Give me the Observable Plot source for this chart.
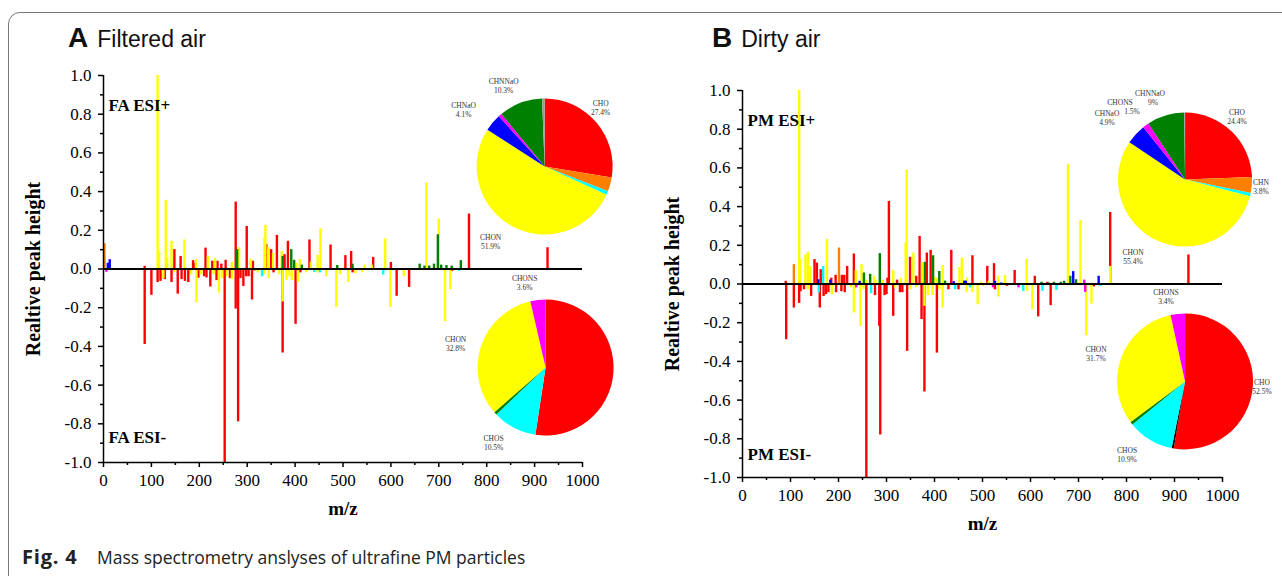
<!DOCTYPE html>
<html>
<head>
<meta charset="utf-8">
<script src="https://cdn.jsdelivr.net/npm/d3@7"></script>
<script src="https://cdn.jsdelivr.net/npm/@observablehq/plot@0.6"></script>
<style>
  html, body { margin: 0; padding: 0; background: #fff; }
  #page { position: relative; width: 1282px; height: 576px; overflow: hidden; background: #fff; }
  .panel { position: absolute; top: 0; }
  .panel svg { display: block; background: transparent; max-width: none; overflow: visible; }
  .panel svg text { font-family: 'Liberation Serif', 'Times New Roman', serif !important; font-variant: normal !important; }
  .title { position: absolute; top: 24px; font-family: "Liberation Sans", Arial, sans-serif; color: #111; white-space: nowrap; line-height: 28px; }
  .title b { font-size: 28px; font-weight: bold; }
  .title span { font-size: 23px; margin-left: 9px; }
  .cap { position: absolute; top: 545px; font-family: "Open Sans", sans-serif; color: #222; white-space: nowrap; line-height: 24px; }
  #frame { position: absolute; left: 8px; top: 12px; width: 1330px; height: 640px; border: 1px solid #777; border-radius: 12px; pointer-events: none; }
</style>
</head>
<body>
<div id="page">
  <div id="panelA" class="panel" style="left:0px;width:640px;"></div>
  <div id="panelB" class="panel" style="left:640px;width:642px;"></div>
  <div class="title" style="left:68px;"><b>A</b><span>Filtered air</span></div>
  <div class="title" style="left:712px;"><b>B</b><span>Dirty air</span></div>
  <div class="cap" style="left:22px;font-size:20px;font-weight:bold;letter-spacing:0.8px;">Fig. 4</div>
  <div class="cap" style="left:97px;font-size:17.5px;">Mass spectrometry anslyses of ultrafine PM particles</div>
  <div id="frame"></div>
</div>
<script>
// ---------- categories / colours ----------
const classes = ["CHO", "CHN", "CHOS", "CHON", "CHNaO", "CHONS", "CHNNaO", "Other", "Unassigned"];
const classColors = ["#ff0000", "#ff8000", "#00ffff", "#ffff00", "#0000ff", "#ff00ff", "#008000", "#9a9a9a", "#000000"];
const classCode = { R: "CHO", O: "CHN", C: "CHOS", Y: "CHON", B: "CHNaO", M: "CHONS", G: "CHNNaO" };
const drawOrder = ["CHO", "CHON", "CHN", "CHOS", "CHNaO", "CHONS", "CHNNaO"];

// ---------- axis ticks ----------
const xTicks = [0, 100, 200, 300, 400, 500, 600, 700, 800, 900, 1000];
const xMinor = [50, 150, 250, 350, 450, 550, 650, 750, 850, 950];
const yTicks = [-1, -0.8, -0.6, -0.4, -0.2, 0, 0.2, 0.4, 0.6, 0.8, 1];
const yMinor = [-0.9, -0.7, -0.5, -0.3, -0.1, 0.1, 0.3, 0.5, 0.7, 0.9];

// ---------- A: filtered air, ESI+  [m/z, relative height, class] ----------
const faPos = [
  [2,0.13,"O"],[9,0.03,"B"],[13,0.048,"B"],[86,0.014,"R"],[113,1.0,"Y"],[116,0.09,"Y"],[130,0.355,"Y"],
  [133,0.06,"Y"],[142,0.143,"Y"],[148,0.10,"R"],[161,0.065,"R"],[169,0.15,"Y"],[187,0.043,"R"],[190,0.03,"R"],
  [193,0.048,"Y"],[213,0.108,"R"],[218,0.065,"Y"],[227,0.04,"R"],[233,0.055,"Y"],[238,0.04,"R"],[246,0.025,"R"],
  [255,0.045,"R"],[268,0.035,"Y"],[276,0.346,"R"],[279,0.10,"G"],[283,0.11,"Y"],[299,0.22,"R"],[307,0.05,"Y"],
  [312,0.04,"R"],[336,0.16,"Y"],[338,0.226,"Y"],[340,0.126,"R"],[344,0.11,"Y"],[350,0.10,"R"],[354,0.08,"Y"],
  [362,0.174,"R"],[372,0.09,"Y"],[374,0.065,"G"],[378,0.074,"R"],[385,0.143,"R"],[392,0.10,"G"],[398,0.045,"G"],
  [402,0.03,"Y"],[410,0.05,"Y"],[414,0.02,"G"],[430,0.15,"R"],[433,0.035,"Y"],[447,0.07,"Y"],[453,0.207,"Y"],
  [474,0.124,"R"],[488,0.018,"G"],[505,0.069,"R"],[517,0.091,"R"],[520,0.025,"G"],[545,0.02,"Y"],[560,0.02,"Y"],
  [563,0.06,"R"],[588,0.155,"Y"],[600,0.034,"R"],[660,0.025,"G"],[670,0.015,"G"],[674,0.444,"Y"],[680,0.015,"G"],
  [690,0.025,"G"],[698,0.177,"G"],[700,0.258,"Y"],[705,0.02,"G"],[716,0.018,"G"],[727,0.015,"G"],[746,0.043,"G"],
  [763,0.284,"R"],[927,0.11,"R"]
];
// ---------- A: filtered air, ESI- ----------
const faNeg = [
  [6,-0.017,"M"],[86,-0.39,"R"],[100,-0.136,"R"],[113,-0.07,"R"],[119,-0.064,"R"],[125,-0.05,"Y"],[128,-0.055,"R"],
  [142,-0.07,"R"],[148,-0.02,"Y"],[155,-0.13,"R"],[163,-0.055,"R"],[170,-0.064,"R"],[177,-0.07,"R"],[183,-0.03,"Y"],
  [194,-0.176,"Y"],[198,-0.048,"R"],[204,-0.03,"Y"],[210,-0.04,"R"],[215,-0.046,"R"],[223,-0.093,"R"],[230,-0.03,"Y"],
  [236,-0.06,"R"],[241,-0.124,"Y"],[247,-0.05,"Y"],[253,-1.0,"R"],[258,-0.04,"Y"],[264,-0.05,"R"],[268,-0.055,"Y"],
  [276,-0.207,"R"],[281,-0.79,"R"],[286,-0.05,"R"],[292,-0.09,"R"],[298,-0.04,"R"],[303,-0.04,"R"],[310,-0.16,"R"],
  [315,-0.01,"R"],[322,-0.02,"Y"],[331,-0.04,"C"],[335,-0.03,"Y"],[345,-0.05,"Y"],[355,-0.02,"R"],[367,-0.03,"Y"],
  [374,-0.434,"R"],[374,-0.17,"Y"],[382,-0.06,"Y"],[388,-0.04,"Y"],[393,-0.06,"Y"],[401,-0.286,"R"],[406,-0.07,"Y"],
  [411,-0.02,"R"],[423,-0.02,"Y"],[440,-0.018,"C"],[447,-0.02,"Y"],[452,-0.02,"C"],[465,-0.04,"Y"],[486,-0.198,"Y"],
  [494,-0.03,"Y"],[511,-0.07,"Y"],[520,-0.02,"R"],[526,-0.025,"Y"],[540,-0.02,"Y"],[584,-0.031,"C"],[599,-0.198,"Y"],
  [612,-0.141,"R"],[627,-0.04,"Y"],[638,-0.095,"R"],[713,-0.272,"Y"],[724,-0.107,"Y"],[728,-0.012,"R"],[742,-0.012,"C"]
];
// ---------- B: dirty air, ESI+ ----------
const pmPos = [
  [90,0.014,"R"],[107,0.10,"O"],[118,1.0,"Y"],[120,0.126,"Y"],[131,0.15,"Y"],[136,0.164,"Y"],[141,0.09,"Y"],
  [150,0.126,"R"],[155,0.108,"R"],[158,0.022,"B"],[163,0.074,"R"],[168,0.09,"C"],[176,0.229,"Y"],[183,0.02,"B"],
  [185,0.03,"R"],[194,0.045,"R"],[201,0.186,"O"],[207,0.045,"R"],[212,0.045,"R"],[218,0.091,"R"],[232,0.155,"R"],
  [236,0.07,"Y"],[244,0.014,"B"],[248,0.10,"Y"],[253,0.057,"G"],[258,0.02,"Y"],[266,0.05,"G"],[274,0.04,"Y"],
  [277,0.02,"Y"],[286,0.157,"G"],[292,0.02,"Y"],[302,0.03,"R"],[305,0.427,"R"],[314,0.07,"Y"],[322,0.02,"R"],
  [330,0.03,"Y"],[340,0.21,"Y"],[342,0.59,"Y"],[349,0.138,"R"],[356,0.16,"Y"],[362,0.04,"R"],[369,0.246,"R"],
  [374,0.11,"Y"],[380,0.112,"G"],[384,0.16,"R"],[392,0.174,"R"],[397,0.146,"G"],[400,0.035,"Y"],[405,0.03,"Y"],
  [410,0.065,"G"],[417,0.095,"Y"],[422,0.015,"G"],[435,0.174,"R"],[440,0.012,"B"],[452,0.085,"Y"],[457,0.134,"Y"],
  [462,0.015,"B"],[465,0.015,"B"],[468,0.03,"Y"],[479,0.146,"R"],[497,0.01,"Y"],[510,0.091,"R"],[513,0.014,"Y"],
  [524,0.105,"R"],[526,0.014,"B"],[533,0.04,"Y"],[539,0.005,"B"],[547,0.043,"Y"],[567,0.07,"R"],[592,0.129,"Y"],
  [609,0.04,"R"],[623,0.009,"G"],[635,0.009,"R"],[638,0.005,"G"],[649,0.009,"G"],[663,0.009,"G"],[670,0.014,"G"],
  [678,0.617,"Y"],[683,0.04,"G"],[689,0.064,"B"],[695,0.022,"G"],[704,0.327,"Y"],[712,0.02,"M"],[742,0.04,"B"],
  [766,0.37,"R"],[766,0.091,"Y"],[929,0.15,"R"]
];
// ---------- B: dirty air, ESI- ----------
const pmNeg = [
  [91,-0.288,"R"],[107,-0.124,"R"],[118,-0.1,"R"],[121,-0.04,"R"],[128,-0.03,"R"],[136,-0.03,"Y"],[143,-0.064,"R"],
  [159,-0.046,"C"],[161,-0.124,"R"],[169,-0.065,"R"],[174,-0.055,"R"],[179,-0.045,"R"],[186,-0.055,"Y"],[195,-0.045,"R"],
  [206,-0.04,"R"],[213,-0.045,"R"],[226,-0.02,"Y"],[232,-0.15,"Y"],[237,-0.02,"M"],[246,-0.219,"Y"],[252,-0.03,"Y"],
  [258,-1.0,"R"],[268,-0.05,"C"],[276,-0.06,"R"],[285,-0.219,"R"],[287,-0.78,"R"],[296,-0.06,"R"],[300,-0.055,"R"],
  [314,-0.167,"R"],[318,-0.02,"Y"],[328,-0.045,"R"],[333,-0.045,"R"],[343,-0.348,"R"],[350,-0.03,"Y"],[362,-0.02,"Y"],
  [373,-0.184,"R"],[379,-0.558,"R"],[379,-0.115,"Y"],[386,-0.06,"Y"],[396,-0.06,"Y"],[405,-0.357,"R"],[410,-0.03,"Y"],
  [417,-0.124,"Y"],[429,-0.03,"R"],[443,-0.03,"C"],[450,-0.03,"R"],[467,-0.045,"Y"],[474,-0.02,"C"],[479,-0.045,"Y"],
  [490,-0.107,"Y"],[501,-0.012,"Y"],[522,-0.02,"M"],[526,-0.03,"R"],[533,-0.067,"Y"],[551,-0.012,"R"],[575,-0.02,"M"],
  [585,-0.038,"C"],[593,-0.038,"Y"],[604,-0.133,"Y"],[616,-0.17,"R"],[625,-0.038,"C"],[642,-0.112,"R"],[654,-0.033,"C"],
  [714,-0.043,"M"],[716,-0.267,"Y"],[727,-0.103,"Y"],[732,-0.015,"R"],[746,-0.012,"C"]
];

// ---------- pie compositions (% of formulas) ----------
const faPosPie = [["CHO",27.4],["CHN",3.3],["CHOS",0.9],["CHON",51.9],["CHNaO",4.1],["CHONS",0.8],["CHNNaO",10.3],["Other",0.6]];
const faNegPie = [["CHO",52.4],["CHOS",10.5],["CHNNaO",0.7],["CHON",32.8],["CHONS",3.6]];
const pmPosPie = [["CHO",24.4],["CHN",3.8],["CHOS",0.8],["CHON",55.4],["CHNaO",4.9],["CHONS",1.5],["CHNNaO",9],["Other",0.2]];
const pmNegPie = [["CHO",52.5],["Unassigned",0.5],["CHOS",10.9],["CHNNaO",0.7],["CHON",31.7],["CHONS",3.4]];

const colorOf = name => classColors[classes.indexOf(name)];
const serif = "'Liberation Serif', 'Times New Roman', serif";

function pieLayer(pies) {
  return (index, scales) => {
    const g = d3.create("svg:g").attr("aria-label", "composition pies");
    for (const p of pies) {
      const cx = scales.x(p.at[0]), cy = scales.y(p.at[1]);
      const pg = g.append("g").attr("transform", `translate(${cx},${cy})`);
      const arcs = d3.pie().sort(null).value(d => d[1])(p.data);
      const arc = d3.arc().innerRadius(0).outerRadius(p.r);
      pg.selectAll("path").data(arcs).join("path")
        .attr("d", arc).attr("fill", d => colorOf(d.data[0]));
      for (const lab of p.labels) {
        const row = p.data.find(d => d[0] === lab.name);
        const t = pg.append("text")
          .attr("font-family", serif).attr("font-size", 7.5).attr("fill", "#333");
        t.append("tspan").attr("x", lab.dx).attr("y", lab.dy).attr("dy", "0.32em").text(lab.name);
        t.append("tspan").attr("x", lab.dx + (lab.pdx || 0)).attr("y", lab.dy + 9).attr("dy", "0.32em").text(row[1] + "%");
      }
    }
    return g.node();
  };
}

function spectrum(opts) {
  const bars = [...opts.pos, ...opts.neg]
    .map(([mz, v, c]) => ({ mz, v, cls: classCode[c] }))
    .sort((a, b) => drawOrder.indexOf(a.cls) - drawOrder.indexOf(b.cls));
  return Plot.plot({
    width: opts.width, height: opts.height,
    marginLeft: opts.ml, marginRight: opts.mr, marginTop: opts.mt, marginBottom: opts.mb,
    x: { domain: [0, 1000] },
    y: { domain: [-1, 1] },
    color: { domain: classes, range: classColors },
    style: { fontFamily: serif, fontSize: "17px", color: "#000", background: "transparent", overflow: "visible" },
    marks: [
      Plot.ruleX(bars, { x: "mz", y1: 0, y2: "v", stroke: "cls", strokeWidth: 2.4 }),
      Plot.ruleY([0], { stroke: "#000", strokeWidth: 2 }),
      Plot.ruleX([0], { stroke: "#000", strokeWidth: 1.5 }),
      Plot.ruleY([-1], { stroke: "#000", strokeWidth: 1.5 }),
      Plot.axisX(xTicks, { anchor: "bottom", tickSize: 5, tickPadding: 6, strokeWidth: 1.5, tickFormat: d => String(d), label: null, fontSize: 17, fontFamily: serif }),
      Plot.axisX(xMinor, { anchor: "bottom", tickSize: 3, strokeWidth: 1.5, tickFormat: () => "", label: null }),
      Plot.axisY(yTicks, { anchor: "left", tickSize: 5, tickPadding: 7, strokeWidth: 1.5, tickFormat: d => d.toFixed(1), label: null, fontSize: 17, fontFamily: serif }),
      Plot.axisY(yMinor, { anchor: "left", tickSize: 3, strokeWidth: 1.5, tickFormat: () => "", label: null }),
      Plot.text([opts.posLabel], { frameAnchor: "top-left", dx: 5, dy: 23, textAnchor: "start", fontWeight: "bold", fontSize: 17, fontFamily: serif }),
      Plot.text([opts.negLabel], { frameAnchor: "bottom-left", dx: 5, dy: opts.negDy, textAnchor: "start", fontWeight: "bold", fontSize: 17, fontFamily: serif }),
      Plot.text(["Realtive peak height"], { frameAnchor: "left", dx: -70, rotate: -90, textAnchor: "middle", fontWeight: "bold", fontSize: 20, fontFamily: serif }),
      Plot.text(["m/z"], { frameAnchor: "bottom", dy: 52, textAnchor: "middle", fontWeight: "bold", fontSize: 19, fontFamily: serif }),
      pieLayer(opts.pies)
    ]
  });
}

document.getElementById("panelA").append(spectrum({
  pos: faPos, neg: faNeg, width: 640, height: 530, ml: 103, mr: 58, mt: 75, mb: 68,
  posLabel: "FA ESI+", negLabel: "FA ESI-", negDy: -20,
  pies: [
    { data: faPosPie, at: [922, 0.527], r: 68, labels: [
      { name: "CHNNaO", dx: -41, dy: -85 }, { name: "CHNaO", dx: -81, dy: -61 },
      { name: "CHO", dx: 56, dy: -63 }, { name: "CHON", dx: -54, dy: 71 } ] },
    { data: faNegPie, at: [924, -0.512], r: 68, labels: [
      { name: "CHONS", dx: -21, dy: -89 }, { name: "CHON", dx: -90, dy: -28 },
      { name: "CHOS", dx: -52, dy: 71 } ] }
  ]
}));

document.getElementById("panelB").append(spectrum({
  pos: pmPos, neg: pmNeg, width: 642, height: 545, ml: 102, mr: 60, mt: 90, mb: 68,
  posLabel: "PM ESI+", negLabel: "PM ESI-", negDy: -18,
  pies: [
    { data: pmPosPie, at: [923, 0.537], r: 67, labels: [
      { name: "CHNNaO", dx: -35, dy: -86, pdx: 3 }, { name: "CHONS", dx: -65, dy: -77, pdx: 12 },
      { name: "CHNaO", dx: -78, dy: -66 }, { name: "CHO", dx: 52, dy: -67 },
      { name: "CHN", dx: 76, dy: 3 }, { name: "CHON", dx: -52, dy: 73 } ] },
    { data: pmNegPie, at: [923, -0.506], r: 68, labels: [
      { name: "CHONS", dx: -19, dy: -89 }, { name: "CHON", dx: -89, dy: -32 },
      { name: "CHO", dx: 77, dy: 1 }, { name: "CHOS", dx: -58, dy: 69 } ] }
  ]
}));
</script>
</body>
</html>
